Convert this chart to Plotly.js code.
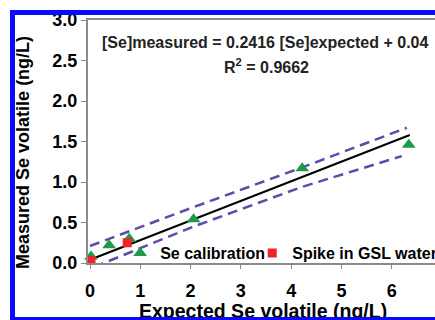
<!DOCTYPE html>
<html>
<head>
<meta charset="utf-8">
<script src="https://cdn.plot.ly/plotly-3.0.1.min.js"></script>
<style>
html,body{margin:0;padding:0;background:#fff;overflow:hidden;width:435px;height:320px;}
#wrap{position:relative;width:435px;height:320px;overflow:hidden;}
#chart{position:absolute;left:0;top:0;width:445px;height:320px;}
.bar{position:absolute;background:#0a0aff;}
</style>
</head>
<body>
<div id="wrap">
<div id="chart"></div>
<div class="bar" style="left:10px;top:10px;width:425px;height:5px;"></div>
<div class="bar" style="left:10px;top:10px;width:5px;height:310px;"></div>
<div class="bar" style="left:10px;top:317px;width:425px;height:3px;"></div>
</div>
<script>
// Se calibration (green triangles)
const calX = [0.02, 0.38, 0.78, 2.06, 4.22, 6.34];
const calY = [0.08, 0.22, 0.30, 0.54, 1.17, 1.46];
// Spike in GSL water (red squares)
const spikeX = [0.02, 0.74];
const spikeY = [0.03, 0.25];
// Regression line
const fitX = [0, 6.36];
const fitY = [0.04, 1.58];
// Confidence bands
const upX = [0, 2.06, 4.22, 6.3];
const upY = [0.21, 0.69, 1.18, 1.67];
const loX = [0.08, 2.06, 4.22, 6.2];
const loY = [-0.05, 0.45, 0.94, 1.32];
const xTickLabels = ['0', '1', '2', '3', '4', '5', '6', '7'];
const yTickLabels = ['0.0', '0.5', '1.0', '1.5', '2.0', '2.5', '3.0'];

const F = 'Liberation Sans, Arial, sans-serif';
const bandStyle = {color: '#5a4ca8', width: 2.5, dash: '10px,6px'};

const traces = [
  {x: upX, y: upY, mode: 'lines', line: bandStyle, showlegend: false, hoverinfo: 'skip'},
  {x: loX, y: loY, mode: 'lines', line: bandStyle, showlegend: false, hoverinfo: 'skip'},
  {x: fitX, y: fitY, mode: 'lines', line: {color: '#000', width: 2}, showlegend: false},
  {x: calX, y: calY, mode: 'markers', name: 'Se calibration', legend: 'legend',
   marker: {symbol: 'triangle-up', size: 12, color: '#1d9b4b'}, cliponaxis: false},
  {x: spikeX, y: spikeY, mode: 'markers', name: 'Spike in GSL water', legend: 'legend2',
   marker: {symbol: 'square', size: 9, color: '#ee2229'}, cliponaxis: false}
];

const axisCommon = {
  showline: true, linecolor: '#8a8a8a', linewidth: 2, mirror: true,
  ticks: 'outside', tickcolor: '#8a8a8a', tickwidth: 1,
  showgrid: false, zeroline: false,
  tickfont: {family: F, size: 18, color: '#000', weight: 'bold'}
};

const layout = {
  width: 445, height: 320,
  margin: {l: 88, r: 0, t: 20, b: 57},
  paper_bgcolor: 'rgba(0,0,0,0)', plot_bgcolor: '#fff',
  xaxis: Object.assign({}, axisCommon, {
    range: [-0.04, 7.06], tickmode: 'array',
    tickvals: xTickLabels.map(Number), ticktext: xTickLabels, ticklen: 4,
    ticklabelstandoff: 6
  }),
  yaxis: Object.assign({}, axisCommon, {
    range: [0, 3], tickmode: 'array',
    tickvals: yTickLabels.map(Number), ticktext: yTickLabels, ticklen: 5
  }),
  legend: {x: 0.09, xanchor: 'left', y: 0.041, yanchor: 'middle', orientation: 'h',
    bgcolor: 'rgba(0,0,0,0)', font: {family: F, size: 16, color: '#000', weight: 'bold'}},
  legend2: {x: 0.46, xanchor: 'left', y: 0.041, yanchor: 'middle', orientation: 'h',
    bgcolor: 'rgba(0,0,0,0)', font: {family: F, size: 16, color: '#000', weight: 'bold'}},
  annotations: [
    {text: 'Expected Se volatile (ng/L)', xref: 'paper', yref: 'paper', x: 0.49, y: -0.1975,
     showarrow: false, xanchor: 'center', yanchor: 'middle',
     font: {family: F, size: 19.5, color: '#000', weight: 'bold'}},
    {text: 'Measured Se volatile (ng/L)', xref: 'paper', yref: 'paper', x: -0.182, y: 0.453,
     textangle: -90, showarrow: false, xanchor: 'center', yanchor: 'middle',
     font: {family: F, size: 18, color: '#000', weight: 'bold'}},
    {text: '[Se]measured = 0.2416 [Se]expected + 0.04', xref: 'paper', yref: 'paper',
     x: 0.0336, y: 0.909, xanchor: 'left', yanchor: 'middle', showarrow: false,
     font: {family: F, size: 16, color: '#222', weight: 'bold'}},
    {text: 'R<sup>2</sup> = 0.9662', xref: 'paper', yref: 'paper',
     x: 0.4986, y: 0.811, xanchor: 'center', yanchor: 'middle', showarrow: false,
     font: {family: F, size: 16, color: '#222', weight: 'bold'}}
  ]
};

Plotly.newPlot('chart', traces, layout, {displayModeBar: false, staticPlot: true});
</script>
</body>
</html>
